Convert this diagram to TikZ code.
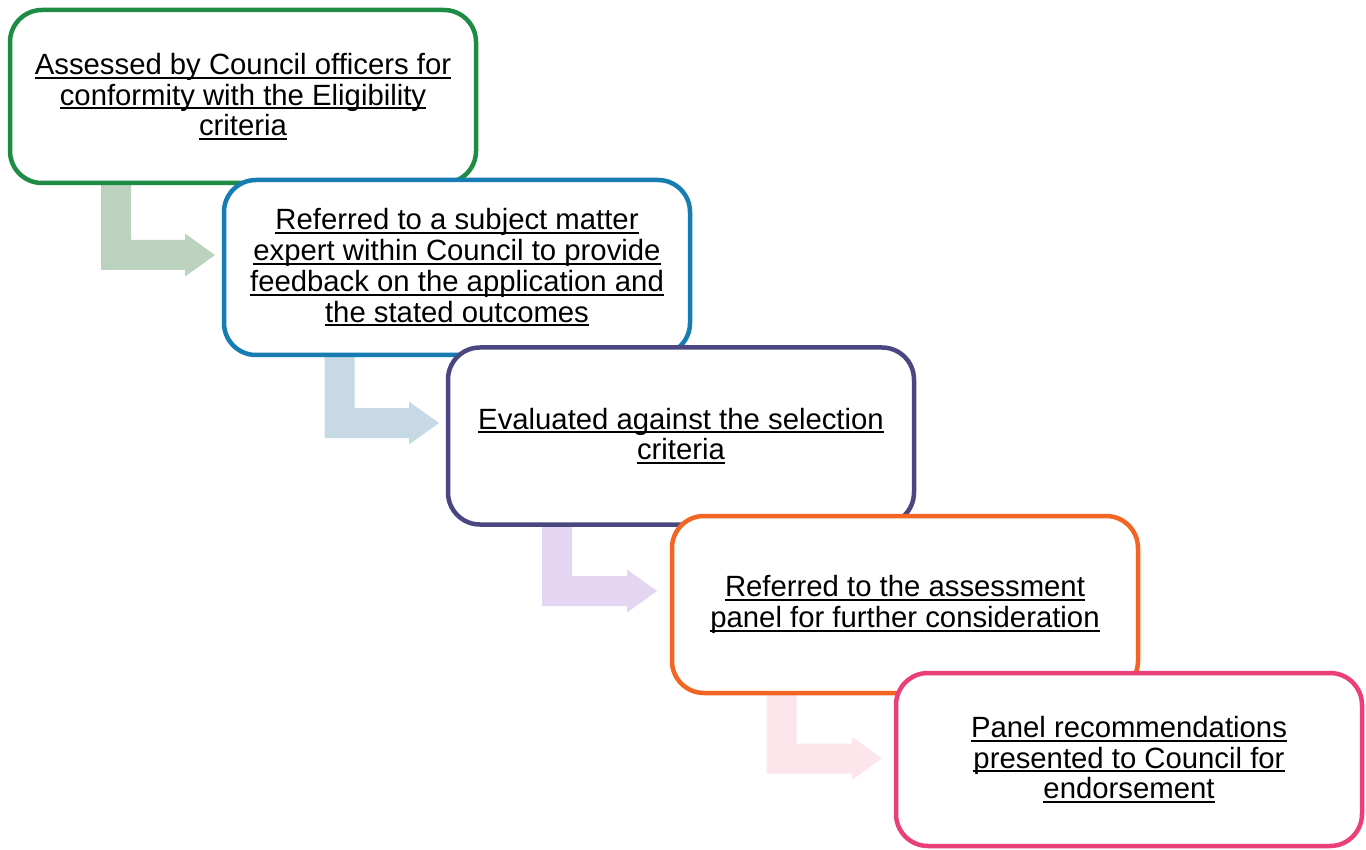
\documentclass[tikz,border=0pt]{standalone}
\usepackage{fontspec}
\setmainfont{Liberation Sans}
\usetikzlibrary{calc,backgrounds}
\definecolor{cgreen}{RGB}{30,140,68}
\definecolor{cblue}{RGB}{22,124,178}
\definecolor{cpurple}{RGB}{74,71,128}
\definecolor{corange}{RGB}{242,101,34}
\definecolor{cpink}{RGB}{235,63,124}
\definecolor{lgreen}{RGB}{187,210,191}
\definecolor{lblue}{RGB}{198,217,229}
\definecolor{lpurple}{RGB}{228,213,241}
\definecolor{lpink}{RGB}{252,229,235}
\newcommand\myul[1]{\setbox0\hbox{#1}\rlap{\rule[-4.2pt]{\wd0}{2pt}}\box0}
\newcommand\bentarrow[3]{%
  \fill[#1] let \p1=(#2), \p2=(#3) in
    (\x1-15pt,\y1) -- (\x1-15pt,\y2-15pt) -- (\x2-30pt,\y2-15pt) -- (\x2-30pt,\y2-21.5pt)
    -- (\x2,\y2) -- (\x2-30pt,\y2+21.5pt) -- (\x2-30pt,\y2+15pt) -- (\x1+15pt,\y2+15pt)
    -- (\x1+15pt,\y1) -- cycle;}
\tikzset{
  stepbox/.style={draw=#1, fill=white, line width=4.5pt, rounded corners=32pt,
    minimum width=466pt, inner sep=0pt, outer sep=0pt, align=center,
    font={\fontsize{29.3}{30.7}\selectfont}, text=black}
}
\begin{document}
\begin{tikzpicture}[x=1pt,y=-1pt]
\useasboundingbox (0,0) rectangle (1366,850);
\node[stepbox=cgreen, minimum height=173pt] (b1) at (243,96.5)
  {\myul{Assessed by Council officers for}\\\myul{conformity with the Eligibility}\\\myul{criteria}};
\node[stepbox=cblue, minimum height=175pt] (b2) at (457,267.5)
  {\myul{Referred to a subject matter}\\\myul{expert within Council to provide}\\\myul{feedback on the application and}\\\myul{the stated outcomes}};
\node[stepbox=cpurple, minimum height=177pt] (b3) at (681,436)
  {\myul{Evaluated against the selection}\\\myul{criteria}};
\node[stepbox=corange, minimum height=177pt] (b4) at (905,604.5)
  {\myul{Referred to the assessment}\\\myul{panel for further consideration}};
\node[stepbox=cpink, minimum height=173pt] (b5) at (1129,759.5)
  {\myul{Panel recommendations}\\\myul{presented to Council for}\\\myul{endorsement}};
\begin{scope}[on background layer]
  \fill[white] (0,0) rectangle (1366,850);
  \coordinate (s1) at ($(b1.south)+(-127,0)$);
  \coordinate (t1) at ($(b2.west)+(-9,-12.5)$);
  \coordinate (s2) at ($(b2.south)+(-117.5,0)$);
  \coordinate (t2) at ($(b3.west)+(-9,-13)$);
  \coordinate (s3) at ($(b3.south)+(-124,0)$);
  \coordinate (t3) at ($(b4.west)+(-15,-13.5)$);
  \coordinate (s4) at ($(b4.south)+(-123.5,0)$);
  \coordinate (t4) at ($(b5.west)+(-14,-1)$);
  \bentarrow{lgreen}{s1}{t1}
  \bentarrow{lblue}{s2}{t2}
  \bentarrow{lpurple}{s3}{t3}
  \bentarrow{lpink}{s4}{t4}
\end{scope}
\end{tikzpicture}
\end{document}
